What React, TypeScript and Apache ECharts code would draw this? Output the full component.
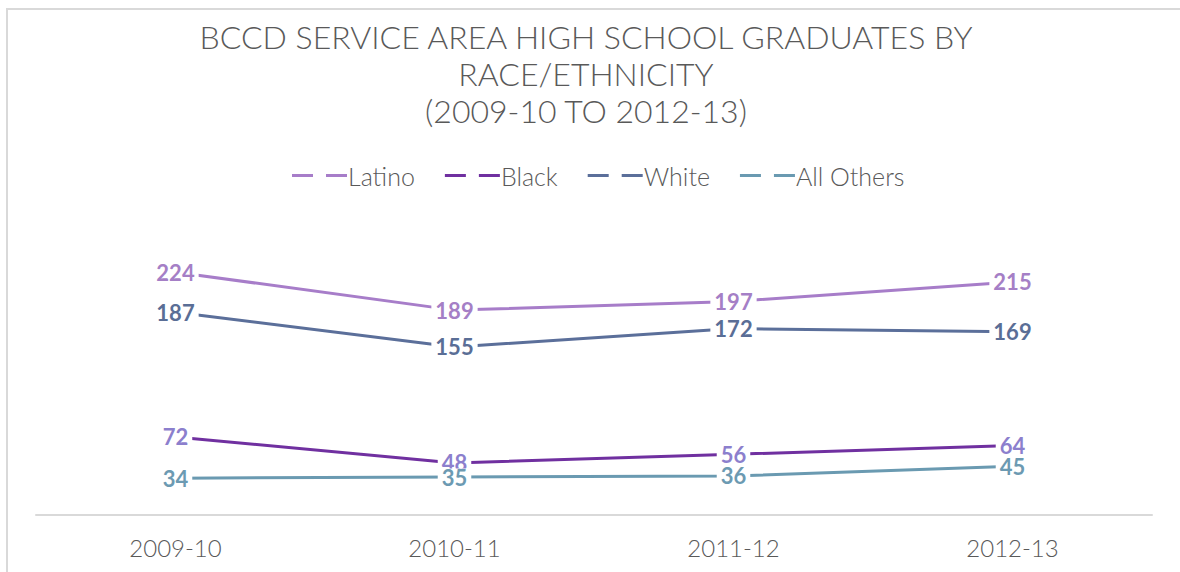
import React, { useEffect, useRef } from "react";
import * as echarts from "echarts";

const years = ["2009-10", "2010-11", "2011-12", "2012-13"];
const latino = [224, 189, 197, 215];
const black = [72, 48, 56, 64];
const white = [187, 155, 172, 169];
const allOthers = [34, 35, 36, 45];

const titleLines = [
  "BCCD SERVICE AREA HIGH SCHOOL GRADUATES BY",
  "RACE/ETHNICITY",
  "(2009-10 TO 2012-13)",
];

// two short dashes, used as the legend marker
const dashIcon = "path://M0,0h21v3h-21z M34,0h21v3h-21z";

function makeSeries(name: string, data: number[], lineColor: string, labelColor: string) {
  return {
    name,
    type: "line",
    data,
    symbol: "circle",
    symbolSize: 0,
    showSymbol: true,
    smooth: false,
    lineStyle: { color: lineColor, width: 3 },
    itemStyle: { color: lineColor },
    label: {
      show: true,
      position: "inside",
      color: labelColor,
      fontFamily: "Lato",
      fontWeight: "bold",
      fontSize: 22,
      lineHeight: 17,
      backgroundColor: "#ffffff",
      padding: [0, 4, 0, 4],
    },
  };
}

export default function App() {
  const ref = useRef<HTMLDivElement>(null);

  useEffect(() => {
    if (!ref.current) return;
    const chart = echarts.init(ref.current, null, { renderer: "svg" });
    chart.setOption({
      animation: false,
      backgroundColor: "#ffffff",
      graphic: [
        {
          type: "rect",
          shape: { x: 7, y: 9, width: 1200, height: 620 },
          style: { fill: "none", stroke: "#D9D9D9", lineWidth: 2 },
          silent: true,
        },
      ],
      title: {
        text: titleLines.join("\n"),
        left: 581,
        top: 13,
        textAlign: "center",
        textStyle: {
          fontFamily: "Lato",
          fontWeight: 300,
          fontSize: 32,
          lineHeight: 37,
          color: "#595959",
        },
      },
      legend: {
        left: 287,
        top: 158,
        icon: dashIcon,
        itemWidth: 55,
        itemHeight: 3,
        itemGap: 30,
        textStyle: {
          fontFamily: "Lato",
          fontWeight: 300,
          fontSize: 25,
          color: "#595959",
          padding: [0, 0, 0, -4],
        },
      },
      grid: { left: 36, right: 28, top: 244, bottom: 57 },
      xAxis: {
        type: "category",
        data: years,
        boundaryGap: true,
        axisLine: { lineStyle: { color: "#D9D9D9", width: 2 } },
        axisTick: { show: false },
        axisLabel: {
          margin: 20,
          fontFamily: "Lato",
          fontWeight: 300,
          fontSize: 24,
          color: "#595959",
        },
      },
      yAxis: {
        type: "value",
        min: 0,
        max: 250,
        show: false,
        splitLine: { show: false },
      },
      series: [
        makeSeries("Latino", latino, "#A77DC9", "#A57FC6"),
        makeSeries("Black", black, "#7030A0", "#8C7FCD"),
        makeSeries("White", white, "#5B6F9A", "#5A6E96"),
        makeSeries("All Others", allOthers, "#6A9AB1", "#6C9AB2"),
      ],
    });
    return () => chart.dispose();
  }, []);

  return (
    <div
      ref={ref}
      style={{ position: "fixed", left: 0, top: 0, width: 1180, height: 572 }}
    />
  );
}
